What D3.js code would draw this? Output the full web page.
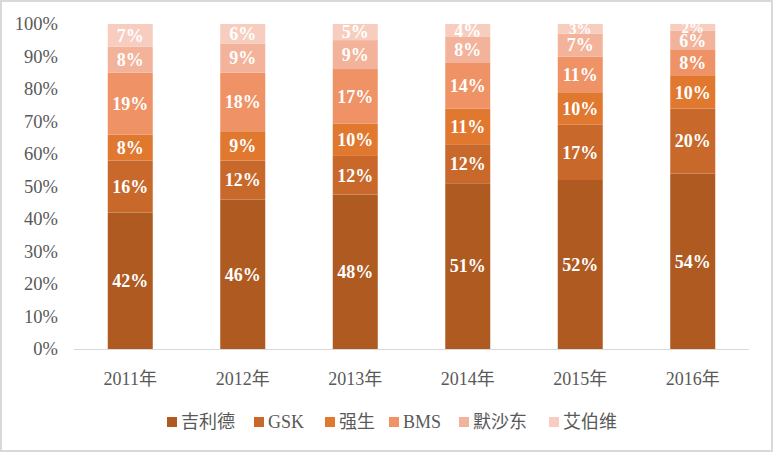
<!DOCTYPE html>
<html><head><meta charset="utf-8">
<script src="https://cdn.jsdelivr.net/npm/d3@7"></script>
<style>body{margin:0;background:#fff}svg{display:block}</style>
</head><body>
<script>
const years = ["2011年","2012年","2013年","2014年","2015年","2016年"];
const seriesNames = ["吉利德","GSK","强生","BMS","默沙东","艾伯维"];
const gilead = [42,46,48,51,52,54];
const gsk    = [16,12,12,12,17,20];
const jnj    = [8,9,10,11,10,10];
const bms    = [19,18,17,14,11,8];
const msd    = [8,9,9,8,7,6];
const abbvie = [7,6,5,4,3,2];
const yTicks = [0,0.1,0.2,0.3,0.4,0.5,0.6,0.7,0.8,0.9,1];
const colors = ["#ae5a21","#c8692b","#e07830","#ef9266","#f3b39a","#f7cdc0"];

const W=773,H=452;
const svg=d3.select("body").append("svg").attr("width",W).attr("height",H);
svg.append("rect").attr("x",1).attr("y",1).attr("width",W-2).attr("height",H-2)
  .attr("fill","#fff").attr("stroke","#d9d9d9").attr("stroke-width",2);

const allVals=[gilead,gsk,jnj,bms,msd,abbvie];
const rows=years.map((y,i)=>{const o={year:y};seriesNames.forEach((s,j)=>o[s]=allVals[j][i]);return o;});
const stack=d3.stack().keys(seriesNames).offset(d3.stackOffsetExpand)(rows);

const x=d3.scaleBand().domain(years).range([74,749]).paddingInner(0.6).paddingOuter(0.3);
const y=d3.scaleLinear().domain([0,1]).range([349,24]);

const serif='"Liberation Serif","Times New Roman",serif';
const cjk='"Liberation Serif","Noto Sans CJK SC",serif';

svg.append("g").selectAll("text").data(yTicks).join("text")
  .attr("x",58).attr("y",d=>y(d)).attr("dy","0.35em").attr("text-anchor","end")
  .attr("font-family",serif).attr("font-size",18.5).attr("fill","#595959")
  .text(d=>Math.round(d*100)+"%");

const g=svg.append("g");
stack.forEach((layer,j)=>{
  g.append("g").selectAll("rect").data(layer).join("rect")
    .attr("x",d=>x(d.data.year)).attr("width",x.bandwidth())
    .attr("y",d=>y(d[1])).attr("height",d=>y(d[0])-y(d[1]))
    .attr("fill",colors[j]);
});
stack.forEach((layer,j)=>{
  g.append("g").selectAll("text").data(layer).join("text")
    .attr("x",d=>x(d.data.year)+x.bandwidth()/2)
    .attr("y",d=>(y(d[0])+y(d[1]))/2).attr("dy","0.35em")
    .attr("text-anchor","middle").attr("font-family",serif).attr("font-weight","bold")
    .attr("font-size",d=>(y(d[0])-y(d[1]))<12?15:18).attr("fill","#fff")
    .text(d=>d.data[seriesNames[j]]+"%");
});

svg.append("line").attr("x1",74).attr("x2",749).attr("y1",349.5).attr("y2",349.5)
  .attr("stroke","#d9d9d9").attr("stroke-width",1);

svg.append("g").selectAll("text").data(years).join("text")
  .attr("x",d=>x(d)+x.bandwidth()/2).attr("y",379).attr("dy","0.35em").attr("text-anchor","middle")
  .attr("font-family",cjk).attr("font-size",18).attr("fill","#595959").text(d=>d);

const legX=[167,254,325,389,459,549];
const lg=svg.append("g");
seriesNames.forEach((s,j)=>{
  lg.append("rect").attr("x",legX[j]).attr("y",417).attr("width",10).attr("height",10).attr("fill",colors[j]);
  lg.append("text").attr("x",legX[j]+14).attr("y",422).attr("dy","0.35em")
    .attr("font-family",cjk).attr("font-size",18).attr("fill","#595959").text(s);
});
</script>
</body></html>
